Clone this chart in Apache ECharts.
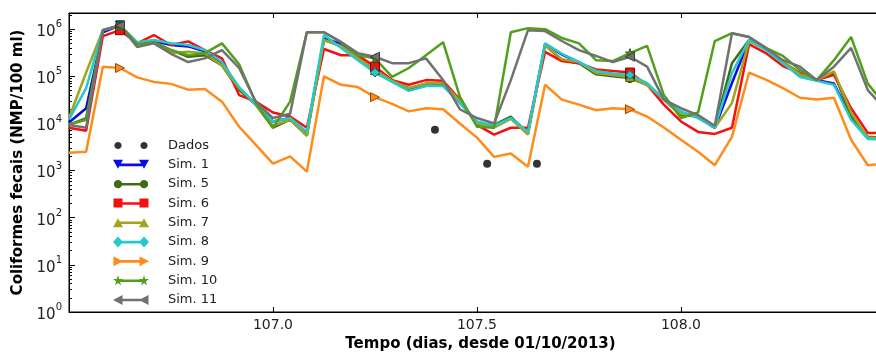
<!DOCTYPE html>
<html>
<head>
<meta charset="utf-8">
<script src="https://cdn.jsdelivr.net/npm/echarts@6/dist/echarts.min.js"></script>
<style>
  html, body { margin: 0; padding: 0; background: #fff; }
  #chart { width: 876px; height: 354px; }
</style>
</head>
<body>
<div id="chart"></div>
<script>
// hourly model output, days since 01/10/2013
var times = [106.500, 106.542, 106.583, 106.625, 106.667, 106.708, 106.750, 106.792, 106.833, 106.875,
             106.917, 106.958, 107.000, 107.042, 107.083, 107.125, 107.167, 107.208, 107.250, 107.292,
             107.333, 107.375, 107.417, 107.458, 107.500, 107.542, 107.583, 107.625, 107.667, 107.708,
             107.750, 107.792, 107.833, 107.875, 107.917, 107.958, 108.000, 108.042, 108.083, 108.125,
             108.167, 108.208, 108.250, 108.292, 108.333, 108.375, 108.417, 108.458, 108.500];

var sim1 = [1.05e4, 2.1e4, 8.6e5, 1.2e6, 5.0e5, 5.6e5, 4.6e5, 4.3e5, 3.4e5, 1.9e5,
            5.6e4, 2.5e4, 1.1e4, 1.3e4, 6.3e3, 6.5e5, 4.8e5, 2.4e5, 1.25e5, 7.8e4,
            5.1e4, 6.4e4, 6.4e4, 2.8e4, 1.05e4, 8.8e3, 1.3e4, 6.5e3, 4.9e5, 2.9e5,
            2.0e5, 1.25e5, 1.1e5, 1.03e5, 7.0e4, 3.2e4, 1.7e4, 1.35e4, 8.0e3, 7.2e4,
            5.8e5, 3.8e5, 2.0e5, 1.0e5, 8.2e4, 7.0e4, 1.3e4, 4.9e3, 4.7e3];
var sim5 = [9.3e3, 1.3e4, 9.5e5, 1.2e6, 4.8e5, 5.3e5, 3.6e5, 2.6e5, 2.8e5, 1.7e5,
            5.1e4, 2.5e4, 8.1e3, 1.2e4, 5.5e3, 5.9e5, 4.4e5, 2.4e5, 1.35e5, 8.3e4,
            5.6e4, 7.0e4, 7.0e4, 3.0e4, 1.0e4, 9.3e3, 1.4e4, 6.0e3, 4.6e5, 2.2e5,
            1.9e5, 1.1e5, 1.0e5, 9.2e4, 6.6e4, 3.2e4, 1.5e4, 1.4e4, 8.1e3, 1.9e5,
            5.9e5, 4.0e5, 2.0e5, 1.17e5, 8.3e4, 1.2e5, 1.4e4, 5.2e3, 5.0e3];
var sim6 = [8.1e3, 7.0e3, 7.1e5, 9.5e5, 5.0e5, 7.5e5, 4.6e5, 5.5e5, 3.6e5, 2.4e5,
            4.0e4, 2.9e4, 1.7e4, 1.4e4, 8.1e3, 3.8e5, 2.8e5, 2.8e5, 1.6e5, 8.3e4,
            6.6e4, 8.3e4, 8.0e4, 3.2e4, 9.3e3, 5.8e3, 8.1e3, 8.1e3, 3.3e5, 2.1e5,
            1.9e5, 1.4e5, 1.3e5, 1.2e5, 6.6e4, 2.5e4, 1.1e4, 6.6e3, 6.0e3, 8.1e3,
            4.8e5, 3.1e5, 1.65e5, 1.17e5, 8.3e4, 1.07e5, 2.1e4, 6.3e3, 6.3e3];
var sim7 = [1.3e4, 1.2e5, 9.5e5, 1.2e6, 4.8e5, 5.3e5, 3.1e5, 3.3e5, 3.1e5, 1.7e5,
            5.6e4, 2.5e4, 9.0e3, 1.2e4, 5.5e3, 5.9e5, 4.4e5, 2.4e5, 1.35e5, 8.0e4,
            5.6e4, 7.0e4, 7.2e4, 3.0e4, 1.0e4, 8.1e3, 1.25e4, 5.8e3, 4.6e5, 2.3e5,
            2.0e5, 1.17e5, 1.07e5, 9.7e4, 6.6e4, 3.2e4, 1.6e4, 1.4e4, 8.1e3, 2.7e4,
            5.6e5, 3.8e5, 2.0e5, 1.1e5, 8.3e4, 1.27e5, 1.7e4, 5.0e3, 4.8e3];
var sim8 = [1.2e4, 5.6e4, 9.5e5, 1.2e6, 5.3e5, 5.9e5, 5.0e5, 4.6e5, 3.6e5, 2.0e5,
            5.9e4, 2.5e4, 1.1e4, 1.3e4, 6.6e3, 7.5e5, 4.0e5, 2.2e5, 1.2e5, 7.6e4,
            4.9e4, 6.2e4, 6.2e4, 2.7e4, 1.1e4, 9.0e3, 1.3e4, 6.6e3, 5.0e5, 3.0e5,
            2.0e5, 1.3e5, 1.15e5, 1.07e5, 7.2e4, 3.2e4, 1.8e4, 1.3e4, 8.1e3, 1.17e5,
            5.9e5, 3.6e5, 1.9e5, 9.7e4, 8.0e4, 6.6e4, 1.2e4, 4.7e3, 4.5e3];
var sim9 = [2.4e3, 2.5e3, 1.6e5, 1.5e5, 9.5e4, 7.6e4, 6.9e4, 5.2e4, 5.4e4, 2.9e4,
            8.5e3, 3.5e3, 1.4e3, 2.0e3, 9.5e2, 1.0e5, 6.6e4, 5.9e4, 3.6e4, 2.6e4,
            1.8e4, 2.1e4, 2.0e4, 1.0e4, 5.0e3, 1.95e3, 2.3e3, 1.2e3, 6.6e4, 3.2e4,
            2.5e4, 1.9e4, 2.1e4, 2.0e4, 1.4e4, 8.2e3, 4.5e3, 2.5e3, 1.3e3, 5.2e3,
            1.2e5, 8.5e4, 5.6e4, 3.5e4, 3.2e4, 3.5e4, 4.5e3, 1.3e3, 1.4e3];
var sim10 = [9.5e3, 1.2e4, 9.5e5, 1.2e6, 4.8e5, 5.3e5, 3.6e5, 2.8e5, 3.1e5, 5.0e5,
             1.8e5, 2.7e4, 8.1e3, 2.9e4, 8.6e5, 8.6e5, 5.3e5, 2.8e5, 2.4e5, 9.7e4,
             1.5e5, 2.8e5, 5.3e5, 3.7e4, 8.5e3, 8.1e3, 8.6e5, 1.05e6, 1.0e6, 6.5e5,
             5.0e5, 2.2e5, 2.1e5, 3.1e5, 4.4e5, 4.0e4, 1.3e4, 1.7e4, 5.6e5, 8.2e5,
             6.8e5, 4.0e5, 2.7e5, 1.35e5, 8.3e4, 2.2e5, 6.8e5, 7.0e4, 2.5e4];
var sim11 = [9.3e3, 8.1e3, 9.5e5, 1.2e6, 4.2e5, 5.0e5, 3.0e5, 2.0e5, 2.4e5, 3.6e5,
             1.5e5, 2.9e4, 1.3e4, 1.6e4, 8.6e5, 8.6e5, 5.3e5, 3.1e5, 2.6e5, 1.9e5,
             1.9e5, 2.4e5, 8.3e4, 2.0e4, 1.3e4, 1.0e4, 8.3e4, 9.5e5, 9.1e5, 5.6e5,
             3.6e5, 2.7e5, 2.0e5, 2.6e5, 1.6e5, 3.2e4, 2.1e4, 1.5e4, 8.9e3, 8.2e5,
             6.8e5, 4.0e5, 2.2e5, 1.6e5, 8.3e4, 1.6e5, 4.0e5, 5.1e4, 2.0e4];

// field samples
var dadosT = [107.397, 107.525, 107.647];
var dadosV = [7.3e3, 1.4e3, 1.4e3];

var xTicks = [107.0, 107.5, 108.0];

// legend icons: marker - line - marker, drawn in a 36x12 box
// every polygon is turned the same way so overlaps do not punch holes
var poly = function (pts, dx) {
  var area = 0;
  for (var i = 0; i < pts.length; i++) {
    var a = pts[i], b = pts[(i + 1) % pts.length];
    area += a[0] * b[1] - b[0] * a[1];
  }
  var p = area < 0 ? pts.slice().reverse() : pts;
  return 'M' + p.map(function (q) { return (q[0] + dx).toFixed(2) + ',' + q[1].toFixed(2); }).join(' L') + ' Z';
};
var ring = function (r) {
  var p = [];
  for (var a = 0; a < 16; a++) {
    p.push([5 + r * Math.cos(a * Math.PI / 8), 6 + r * Math.sin(a * Math.PI / 8)]);
  }
  return p;
};
var mk = {
  down: [[0,1],[10,1],[5,10]],
  circle: ring(4.2),
  square: [[0.5,1],[9.5,1],[9.5,10],[0.5,10]],
  up: [[0,10.5],[10,10.5],[5,1.5]],
  diamond: [[5,0.5],[10,6],[5,11.5],[0,6]],
  right: [[0.5,1],[10,6],[0.5,11]],
  star: [[5,0.5],[6.18,4.38],[9.9,4.45],[6.9,6.8],[8.1,10.6],[5,8.3],[1.9,10.6],[3.1,6.8],[0.1,4.45],[3.82,4.38]],
  left: [[9.5,1],[0,6],[9.5,11]]
};
var bar = [[5,4.8],[31,4.8],[31,7.4],[5,7.4]];
var iconOf = function (m) {
  return 'path://' + poly(m, 0) + ' ' + poly(m, 26) + ' ' + poly(bar, 0) + ' M0,0 M36,12';
};
var dadosIcon = 'path://' + poly(ring(3.6), 0) + ' ' + poly(ring(3.6), 26) + ' M0,0 M36,12';

var starMark = 'path://M50,0 L61,35 L98,35 L68,57 L79,91 L50,70 L21,91 L32,57 L2,35 L39,35 Z';

var sims = [
  { name: 'Sim. 1', data: sim1, color: '#0a0ae6', edge: '#00006a', symbol: 'triangle', rotate: 180, icon: iconOf(mk.down) },
  { name: 'Sim. 5', data: sim5, color: '#416b14', edge: '#223a08', symbol: 'circle', rotate: 0, icon: iconOf(mk.circle) },
  { name: 'Sim. 6', data: sim6, color: '#f50f0f', edge: '#7a0000', symbol: 'rect', rotate: 0, icon: iconOf(mk.square) },
  { name: 'Sim. 7', data: sim7, color: '#a3a31c', edge: '#55550a', symbol: 'triangle', rotate: 0, icon: iconOf(mk.up) },
  { name: 'Sim. 8', data: sim8, color: '#26c9c9', edge: '#0e6f6f', symbol: 'diamond', rotate: 0, icon: iconOf(mk.diamond) },
  { name: 'Sim. 9', data: sim9, color: '#ff8c1a', edge: '#8a4a08', symbol: 'triangle', rotate: -90, icon: iconOf(mk.right) },
  { name: 'Sim. 10', data: sim10, color: '#50a01c', edge: '#2a5a0a', symbol: starMark, rotate: 0, icon: iconOf(mk.star) },
  { name: 'Sim. 11', data: sim11, color: '#717171', edge: '#3a3a3a', symbol: 'triangle', rotate: 90, icon: iconOf(mk.left) }
];

var series = [{
  name: 'Dados',
  type: 'scatter',
  data: dadosT.map(function (t, i) { return [t, dadosV[i]]; }),
  symbol: 'circle',
  symbolSize: 8,
  itemStyle: { color: '#000' },
  z: 1
}];
sims.forEach(function (s) {
  series.push({
    name: s.name,
    type: 'line',
    data: times.map(function (t, i) { return [t, s.data[i]]; }),
    symbol: s.symbol,
    symbolRotate: s.rotate,
    symbolSize: function (v, p) { return p.dataIndex % 15 === 3 ? 9 : 0; },
    showSymbol: true,
    showAllSymbol: true,
    lineStyle: { color: s.color, width: 2.5 },
    itemStyle: { color: s.color, borderColor: s.edge, borderWidth: 1 },
    emphasis: { disabled: true },
    z: 2
  });
});

var legendData = [{ name: 'Dados', icon: dadosIcon }].concat(sims.map(function (s) {
  return { name: s.name, icon: s.icon };
}));

var supDigits = function (v) {
  var e = Math.round(Math.log(v) / Math.LN10);
  return '{b|10}{s|' + e + '}';
};

var chart = echarts.init(document.getElementById('chart'), null, { renderer: 'canvas' });

var option = {
  animation: false,
  textStyle: { fontFamily: 'DejaVu Sans', color: '#222' },
  grid: {
    left: 69, top: 13, right: -2, bottom: 42,
    outerBoundsMode: 'none',
    show: true, borderColor: '#000', borderWidth: 1, backgroundColor: 'transparent'
  },
  legend: {
    orient: 'vertical',
    left: 108,
    top: 134,
    itemWidth: 36,
    itemHeight: 12,
    itemGap: 6.3,
    itemStyle: { borderWidth: 0 },
    textStyle: { fontFamily: 'DejaVu Sans', fontSize: 13, color: '#222', padding: [0, 0, 0, 14] },
    data: legendData,
    selectedMode: false
  },
  xAxis: [{
    type: 'value',
    min: 106.5,
    max: 108.483,
    interval: 0.5,
    axisLine: { show: true, lineStyle: { color: '#000', width: 1 } },
    axisTick: { show: true, inside: true, length: 5, lineStyle: { color: '#000' } },
    axisLabel: {
      fontSize: 14, color: '#222', margin: 6,
      showMinLabel: false, showMaxLabel: false,
      formatter: function (v) { return xTicks.indexOf(v) >= 0 ? v.toFixed(1) : ''; }
    },
    splitLine: { show: false },
    name: 'Tempo (dias, desde 01/10/2013)',
    nameLocation: 'middle',
    nameGap: 25,
    nameTextStyle: { fontSize: 15, fontWeight: 'bold', color: '#000', padding: [0, 0, 0, 14] }
  }, {
    type: 'value',
    position: 'top',
    min: 106.5,
    max: 108.483,
    interval: 0.5,
    axisLine: { show: true, lineStyle: { color: '#000', width: 1 } },
    axisTick: { show: true, inside: true, length: 5, lineStyle: { color: '#000' } },
    axisLabel: { show: false },
    splitLine: { show: false }
  }],
  yAxis: {
    type: 'log',
    logBase: 10,
    min: 1,
    max: 2.2e6,
    axisLine: { show: true, lineStyle: { color: '#000', width: 1 } },
    axisTick: { show: true, inside: true, length: 6, lineStyle: { color: '#000' } },
    minorTick: { show: true, splitNumber: 9, length: 3, lineStyle: { color: '#000' } },
    axisLabel: {
      margin: 7,
      showMaxLabel: false,
      formatter: supDigits,
      rich: {
        b: { fontSize: 15, color: '#222', fontFamily: 'DejaVu Sans', padding: [6, 0, 0, 0] },
        s: { fontSize: 10, color: '#222', fontFamily: 'DejaVu Sans', padding: [0, 0, 9, 0] }
      }
    },
    splitLine: { show: false },
    name: 'Coliformes fecais (NMP/100 ml)',
    nameLocation: 'middle',
    nameGap: 31,
    nameTextStyle: { fontSize: 15, fontWeight: 'bold', color: '#000' }
  },
  series: series
};

chart.setOption(option);
</script>
</body>
</html>
